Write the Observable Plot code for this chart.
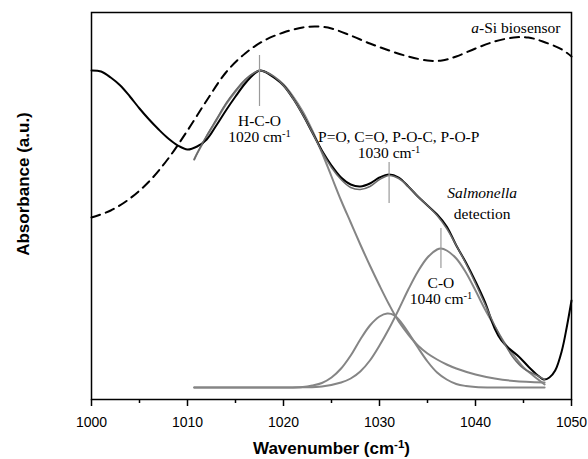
<!DOCTYPE html>
<html>
<head>
<meta charset="utf-8">
<script src="https://cdn.jsdelivr.net/npm/d3@7"></script>
<script src="https://cdn.jsdelivr.net/npm/@observablehq/plot@0.6"></script>
<style>
  html, body { margin: 0; padding: 0; background: #fff; }
</style>
</head>
<body>
<div id="chart"></div>
<script>
// Wavenumber (cm-1) and absorbance (a.u.)
const measuredX = [1000,1001,1002,1003,1004,1005,1006,1007,1008,1009,1010,1011,1012,1013,1014,1015,1016,1017,1017.5,1018,1019,1020,1021,1022,1023,1024,1025,1026,1027,1028,1029,1030,1031,1032,1033,1034,1035,1036,1037,1038,1039,1040,1041,1042,1042.7,1043.5,1044.5,1045.5,1046.5,1047.1,1047.7,1048.3,1049,1049.5,1050];
const measuredY = [3.29,3.28,3.22,3.14,3.03,2.91,2.80,2.70,2.61,2.54,2.50,2.53,2.60,2.74,2.89,3.03,3.16,3.26,3.29,3.28,3.22,3.14,3.01,2.85,2.67,2.49,2.34,2.22,2.15,2.13,2.16,2.22,2.25,2.22,2.13,2.03,1.94,1.85,1.73,1.54,1.37,1.18,0.97,0.71,0.59,0.51,0.43,0.33,0.24,0.20,0.22,0.29,0.49,0.72,0.99];

const fitX = [1010.7,1011,1012,1013,1014,1015,1016,1017,1017.5,1018,1019,1020,1021,1022,1023,1024,1025,1026,1027,1028,1029,1030,1031,1032,1033,1034,1035,1036,1037,1038,1039,1040,1041,1042,1043,1044,1045,1046,1047.2];
const fitY = [2.40,2.46,2.64,2.80,2.96,3.09,3.20,3.27,3.29,3.28,3.23,3.14,3.01,2.85,2.67,2.48,2.32,2.20,2.12,2.10,2.13,2.20,2.24,2.21,2.13,2.03,1.94,1.84,1.71,1.54,1.36,1.16,0.95,0.74,0.56,0.41,0.31,0.26,0.20];

const hcoX = [1010.7,1011,1012,1013,1014,1015,1016,1017,1017.5,1018,1019,1020,1021,1022,1023,1024,1025,1026,1027,1028,1029,1030,1031,1032,1033,1034,1035,1036,1037,1038,1040,1042,1044,1047.2];
const hcoY = [2.40,2.46,2.63,2.79,2.95,3.08,3.19,3.27,3.29,3.28,3.23,3.15,3.03,2.88,2.69,2.47,2.23,1.99,1.77,1.55,1.34,1.14,0.95,0.78,0.65,0.54,0.46,0.40,0.35,0.31,0.25,0.21,0.185,0.17];

const poX = [1010.7,1016,1020,1022,1023,1024,1025,1026,1027,1028,1029,1030,1030.8,1031.5,1032,1033,1034,1035,1036,1037,1038,1039,1040,1042,1047.2];
const poY = [0.12,0.12,0.12,0.125,0.14,0.165,0.22,0.31,0.44,0.60,0.74,0.83,0.86,0.845,0.80,0.67,0.52,0.38,0.27,0.20,0.155,0.135,0.125,0.12,0.12];

const coX = [1010.7,1016,1020,1022,1024,1026,1027,1028,1029,1030,1031,1032,1033,1034,1035,1036,1036.4,1037,1038,1039,1040,1041,1042,1043,1044,1045,1046,1047.2];
const coY = [0.12,0.12,0.12,0.122,0.13,0.17,0.21,0.28,0.39,0.54,0.71,0.90,1.10,1.28,1.42,1.50,1.51,1.49,1.41,1.27,1.09,0.90,0.73,0.57,0.44,0.32,0.24,0.15];

const sensorX = [1000,1002,1004,1006,1008,1010,1012,1014,1016,1018,1020,1022,1023.5,1025,1027,1029,1031,1033,1035,1036.5,1038,1040,1042,1044,1045.5,1047,1049,1050];
const sensorY = [1.82,1.89,2.01,2.18,2.41,2.69,2.99,3.27,3.46,3.59,3.67,3.72,3.73,3.71,3.64,3.56,3.49,3.43,3.39,3.39,3.43,3.51,3.58,3.62,3.62,3.58,3.50,3.43];

const majorTicks = [1000,1010,1020,1030,1040,1050];
const minorTicks = [1005,1015,1025,1035,1045];

// peak marker lines: x, top, bottom
const peakX = [1017.5, 1031, 1036.4];
const peakTop = [3.44, 2.37, 1.71];
const peakBottom = [2.93, 1.96, 1.31];

// annotation texts
const noteText = ["H-C-O","1020 cm⁻¹","P=O, C=O, P-O-C, P-O-P","1030 cm⁻¹","detection","C-O","1040 cm⁻¹"];
const noteX = [1017.5,1017.5,1032,1031,1040.7,1036.4,1036.4];
const noteY = [2.78,2.62,2.62,2.46,1.85,1.16,1.00];
const italicText = ["Salmonella"];
const italicX = [1040.7];
const italicY = [2.06];
const sensorLabel = "a-Si biosensor";
const sensorLabelX = 1048.85;
const sensorLabelY = 3.71;

const zip = (xs, ys) => xs.map((x, i) => ({x, y: ys[i]}));
const measured = zip(measuredX, measuredY);
const fit = zip(fitX, fitY);
const hco = zip(hcoX, hcoY);
const po = zip(poX, poY);
const co = zip(coX, coY);
const sensor = zip(sensorX, sensorY);
const peaks = peakX.map((x, i) => ({x, y1: peakTop[i], y2: peakBottom[i]}));
const notes = noteText.map((t, i) => ({t, x: noteX[i], y: noteY[i]}));
const italics = italicText.map((t, i) => ({t, x: italicX[i], y: italicY[i]}));

const serif = "'Liberation Serif', 'Times New Roman', serif";
const gray = "#858585";

const chart = Plot.plot({
  width: 588,
  height: 459,
  marginLeft: 91,
  marginRight: 17,
  marginTop: 12,
  marginBottom: 60,
  style: {fontFamily: "'Liberation Sans', Arial, sans-serif", fontSize: "14px", color: "black", background: "white"},
  x: {domain: [1000, 1050]},
  y: {domain: [0, 3.87], axis: null},
  marks: [
    Plot.line(sensor, {x: "x", y: "y", stroke: "black", strokeWidth: 2, strokeDasharray: "9,6", curve: "catmull-rom"}),
    Plot.line(hco, {x: "x", y: "y", stroke: gray, strokeWidth: 2, curve: "catmull-rom"}),
    Plot.line(po, {x: "x", y: "y", stroke: gray, strokeWidth: 2, curve: "catmull-rom"}),
    Plot.line(co, {x: "x", y: "y", stroke: gray, strokeWidth: 2, curve: "catmull-rom"}),
    Plot.line(measured, {x: "x", y: "y", stroke: "black", strokeWidth: 2, curve: "catmull-rom"}),
    Plot.line(fit, {x: "x", y: "y", stroke: "#6a6a6a", strokeWidth: 1.5, curve: "catmull-rom"}),
    Plot.ruleX(peaks, {x: "x", y1: "y1", y2: "y2", stroke: "#9a9a9a", strokeWidth: 1.2}),
    Plot.text(notes, {x: "x", y: "y", text: "t", fontFamily: serif, fontSize: 15.5, fill: "black"}),
    Plot.text(italics, {x: "x", y: "y", text: "t", fontFamily: serif, fontSize: 15.5, fontStyle: "italic", fill: "black"}),
    Plot.text([sensorLabel], {x: sensorLabelX, y: sensorLabelY, text: d => d, textAnchor: "end", fontFamily: serif, fontSize: 15.5, fill: "black"}),
    Plot.frame({stroke: "black", strokeWidth: 1.5}),
    Plot.axisX({ticks: minorTicks, tickSize: 4, tickFormat: () => "", label: null, strokeWidth: 1.5}),
    Plot.axisX({ticks: majorTicks, tickSize: 7, tickPadding: 11, tickFormat: d => String(d), label: null, strokeWidth: 1.5, fontSize: 14}),
    Plot.text(["Wavenumber (cm⁻¹)"], {frameAnchor: "bottom", dy: 54, text: d => d, fontWeight: "bold", fontSize: 17, fill: "black"}),
    Plot.text(["Absorbance (a.u.)"], {frameAnchor: "left", textAnchor: "middle", dx: -68, dy: -22, rotate: -90, text: d => d, fontWeight: "bold", fontSize: 17, fill: "black"})
  ]
});

// typographic touches: italic "a" and superscript "-1"
d3.select(chart).selectAll("text").each(function() {
  const content = this.textContent;
  const t = d3.select(this);
  if (content === "a-Si biosensor") {
    t.text(null);
    t.append("tspan").attr("font-style", "italic").text("a");
    t.append("tspan").text("-Si biosensor");
  } else if (content.includes("⁻¹")) {
    const [before, after] = content.split("⁻¹");
    t.text(null);
    t.append("tspan").text(before);
    t.append("tspan").attr("baseline-shift", "super").attr("font-size", "0.68em").text("-1");
    if (after) t.append("tspan").text(after);
  }
});

document.getElementById("chart").appendChild(chart);
</script>
</body>
</html>
